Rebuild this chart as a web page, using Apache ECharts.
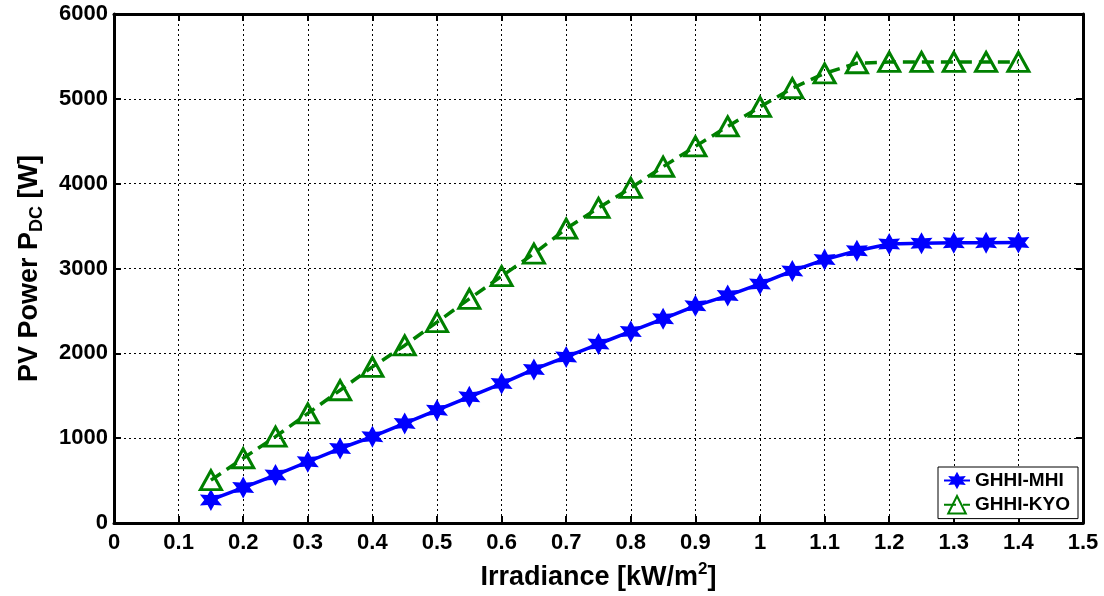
<!DOCTYPE html>
<html>
<head>
<meta charset="utf-8">
<script src="https://cdn.jsdelivr.net/npm/echarts@6/dist/echarts.min.js"></script>
<style>
  html, body { margin: 0; padding: 0; background: #fff; }
  #chart { width: 1104px; height: 596px; }
</style>
</head>
<body>
<div id="chart"></div>
<script>
// irradiance steps [kW/m2]
const irradiance = [0.15, 0.2, 0.25, 0.3, 0.35, 0.4, 0.45, 0.5, 0.55, 0.6, 0.65, 0.7, 0.75,
  0.8, 0.85, 0.9, 0.95, 1.0, 1.05, 1.1, 1.15, 1.2, 1.25, 1.3, 1.35, 1.4]
const powerMHI = [272, 418, 565, 722, 878, 1018, 1174, 1330, 1487, 1644, 1810, 1957, 2110,
  2258, 2407, 2560, 2681, 2818, 2972, 3105, 3209, 3288, 3298, 3303, 3305, 3307]
const powerKYO = [505, 763, 1018, 1292, 1565, 1840, 2093, 2368, 2642, 2910, 3175, 3470, 3715,
  3950, 4200, 4440, 4675, 4905, 5125, 5300, 5420, 5435, 5435, 5435, 5435, 5435]
const seriesNames = ['GHHI-MHI', 'GHHI-KYO']

const pair = (ys) => irradiance.map((x, i) => [x, ys[i]])

// six point star like matlab 'hexagram'
const hexagram = (() => {
  const pts = []
  for (let k = 0; k < 12; k++) {
    const r = k % 2 === 0 ? 10 : 5.2
    const a = -Math.PI / 2 + (k * Math.PI) / 6
    pts.push((10 + r * Math.cos(a)).toFixed(2) + ' ' + (10 + r * Math.sin(a)).toFixed(2))
  }
  return 'path://M' + pts.join(' L') + ' Z'
})()

const font = 'Liberation Sans, Arial, sans-serif'
const black = '#000'

const chart = echarts.init(document.getElementById('chart'), null, { renderer: 'canvas' })

const boxAxis = {
  axisLine: { show: true, onZero: false, lineStyle: { color: black, width: 3 } },
  axisTick: { show: true, inside: true, length: 7, lineStyle: { color: black, width: 2 } },
  splitLine: { show: false },
}

chart.setOption({
  backgroundColor: '#fff',
  animation: false,
  grid: { left: 114, right: 21, top: 14, bottom: 71, containLabel: false },
  legend: {
    orient: 'vertical',
    left: 938,
    top: 467,
    width: 140,
    padding: [4, 8, 4, 5],
    itemGap: 5,
    itemWidth: 26,
    itemHeight: 22,
    backgroundColor: '#fff',
    borderColor: black,
    borderWidth: 1,
    textStyle: { fontFamily: font, fontWeight: 'bold', fontSize: 19, color: black },
    data: seriesNames,
  },
  xAxis: [
    {
      type: 'value',
      min: 0,
      max: 1.5,
      interval: 0.1,
      name: '{a|Irradiance [kW/m}{sup|2}{a|]}',
      nameLocation: 'middle',
      nameGap: 38,
      nameTextStyle: {
        rich: {
          a: { fontFamily: font, fontWeight: 'bold', fontSize: 27, color: black, verticalAlign: 'bottom', lineHeight: 30 },
          sup: { fontFamily: font, fontWeight: 'bold', fontSize: 17, color: black, verticalAlign: 'top', lineHeight: 30, padding: [0, 0, 13, 0] },
        },
      },
      axisLine: { show: true, onZero: false, lineStyle: { color: black, width: 3 } },
      axisTick: { show: true, inside: true, length: 7, lineStyle: { color: black, width: 2 } },
      axisLabel: {
        fontFamily: font, fontWeight: 'bold', fontSize: 22, color: black, margin: 9,
        formatter: (v) => String(+v.toFixed(1)),
      },
      splitLine: { show: true, lineStyle: { color: black, width: 1, type: [2, 3] } },
    },
    {
      type: 'value', position: 'top', min: 0, max: 1.5, interval: 0.1,
      axisLabel: { show: false }, ...boxAxis,
    },
  ],
  yAxis: [
    {
      type: 'value',
      min: 0,
      max: 6000,
      interval: 1000,
      name: '{a|PV Power P}{sub|DC}{a| [W]}',
      nameLocation: 'middle',
      nameRotate: 90,
      nameGap: 68,
      nameTextStyle: {
        rich: {
          a: { fontFamily: font, fontWeight: 'bold', fontSize: 27, color: black, verticalAlign: 'top', lineHeight: 30 },
          sub: { fontFamily: font, fontWeight: 'bold', fontSize: 18, color: black, verticalAlign: 'bottom', lineHeight: 30, padding: [6, 0, 0, 0] },
        },
      },
      axisLine: { show: true, onZero: false, lineStyle: { color: black, width: 3 } },
      axisTick: { show: true, inside: true, length: 7, lineStyle: { color: black, width: 2 } },
      axisLabel: {
        fontFamily: font, fontWeight: 'bold', fontSize: 22, color: black, margin: 6,
        formatter: (v) => String(v),
      },
      splitLine: { show: true, lineStyle: { color: black, width: 1, type: [2, 3] } },
    },
    {
      type: 'value', position: 'right', min: 0, max: 6000, interval: 1000,
      axisLabel: { show: false }, ...boxAxis,
    },
  ],
  series: [
    {
      name: seriesNames[0],
      type: 'line',
      data: pair(powerMHI),
      symbol: hexagram,
      symbolSize: 22,
      lineStyle: { color: '#0000ff', width: 3.5 },
      itemStyle: { color: '#0000ff' },
      z: 3,
    },
    {
      name: seriesNames[1],
      type: 'line',
      data: pair(powerKYO),
      symbol: 'triangle',
      symbolSize: [21, 19],
      lineStyle: { color: '#008000', width: 3.5, type: [12, 7] },
      itemStyle: { color: 'rgba(255,255,255,0)', borderColor: '#008000', borderWidth: 3 },
      z: 3,
    },
  ],
})
</script>
</body>
</html>
